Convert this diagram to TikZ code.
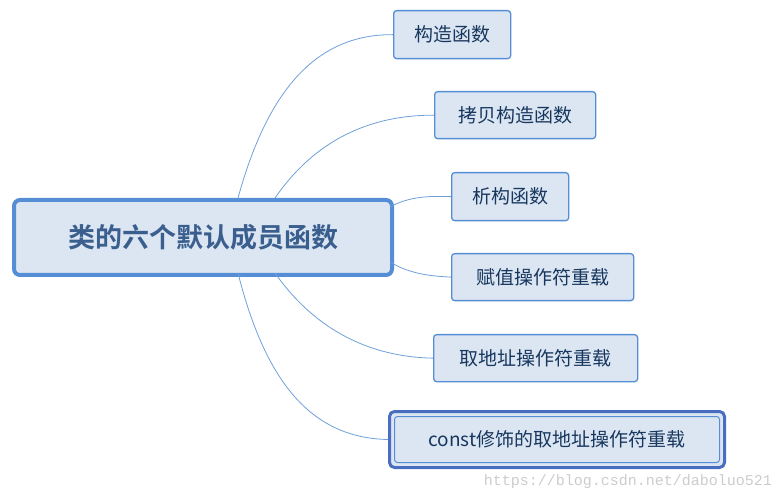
\documentclass[tikz,border=0pt]{standalone}
\usepackage{fontspec}
\newfontfamily\cjk{Noto Sans CJK SC}
\newfontfamily\cjkb{Noto Sans CJK SC Bold}
\setmonofont{Liberation Mono}
\definecolor{fillb}{HTML}{DCE6F2}
\definecolor{edgeb}{HTML}{558ED5}
\definecolor{edged}{HTML}{4A6EBF}
\definecolor{txt}{HTML}{17375E}
\definecolor{txtb}{HTML}{3A5F8F}
\tikzset{
 child/.style={draw=edgeb,line width=1.3pt,fill=fillb,rounded corners=3pt,inner sep=0pt,text=txt,font=\cjk\fontsize{19}{22}\selectfont,anchor=north west},
 link/.style={draw=edgeb!85,line width=0.8pt}
}
\begin{document}
\begin{tikzpicture}[x=1pt,y=-1pt]
\useasboundingbox (0,0) rectangle (784,502);
\node[draw=edgeb,line width=4pt,fill=fillb,rounded corners=6pt,minimum width=378pt,minimum height=75pt,text=txtb,font=\cjkb\fontsize{27}{30}\selectfont,anchor=north west,inner sep=0pt] (c) at (12,198) {类的六个默认成员函数};
\node[child,minimum width=117pt,minimum height=48pt] (a) at (393,10) {构造函数};
\node[child,minimum width=161pt,minimum height=47pt] (b) at (434,91) {拷贝构造函数};
\node[child,minimum width=117pt,minimum height=48pt] (d) at (451,172) {析构函数};
\node[child,minimum width=182pt,minimum height=47pt] (e) at (451,253) {赋值操作符重载};
\node[child,minimum width=204pt,minimum height=47pt] (f) at (433,334) {取地址操作符重载};
\node[draw=edged,line width=3pt,fill=fillb,rounded corners=5pt,minimum width=335pt,minimum height=56pt,anchor=north west,inner sep=0pt] (g) at (388,410) {};
\node[child,line width=1pt,minimum width=325pt,minimum height=46pt,anchor=center] (gi) at (g.center) {const修饰的取地址操作符重载};
\coordinate (c1) at (238,198);
\coordinate (c2) at (275,198);
\coordinate (c3) at (390,207);
\coordinate (c4) at (390,262);
\coordinate (c5) at (275,273);
\coordinate (c6) at (238,273);
\draw[link] (c1) .. controls (265,100) and (310,34) .. (a.west);
\draw[link] (c2) .. controls (315,140) and (370,115) .. (b.west);
\draw[link] (c3) .. controls (410,196) and (430,196) .. (d.west);
\draw[link] (c4) .. controls (410,274) and (430,276) .. (e.west);
\draw[link] (c5) .. controls (315,330) and (370,357) .. (f.west);
\draw[link] (c6) .. controls (265,380) and (310,438) .. (g.west);
\node[anchor=east,text=gray!40,font=\ttfamily\fontsize{15}{16}\selectfont,inner sep=0pt] (w) at (772,482) {https://blog.csdn.net/daboluo521};
\end{tikzpicture}
\end{document}
